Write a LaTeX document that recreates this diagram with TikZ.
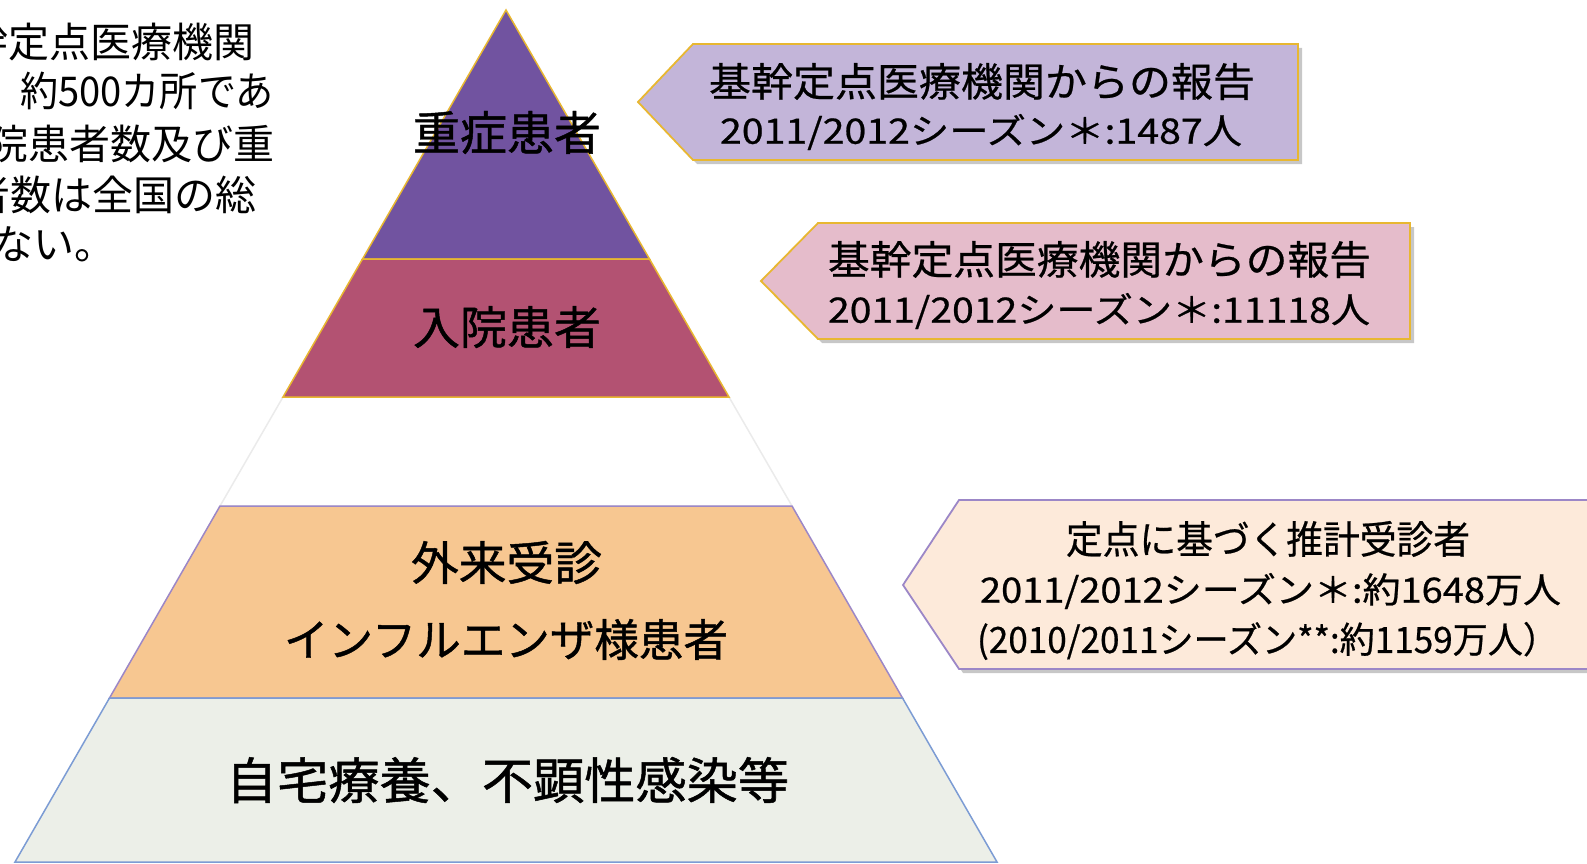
\documentclass[tikz,border=0pt]{standalone}
\usepackage{graphicx}
\usepackage{fontspec}
\setmainfont{Noto Sans CJK JP}
\newfontfamily\jpmed{Noto Sans CJK JP}[FakeBold=0.6]
\newfontfamily\jpbold{Noto Sans CJK JP}[FakeBold=1.0]
\definecolor{bandA}{RGB}{113,83,160}
\definecolor{bandB}{RGB}{179,82,114}
\definecolor{bandD}{RGB}{247,199,145}
\definecolor{bandE}{RGB}{236,239,232}
\definecolor{goldline}{RGB}{232,183,49}
\definecolor{purpleline}{RGB}{156,135,199}
\definecolor{blueline}{RGB}{124,156,212}
\definecolor{callA}{RGB}{195,181,217}
\definecolor{callB}{RGB}{229,188,203}
\definecolor{callC}{RGB}{253,234,218}
\newcommand{\fitbox}[3]{\resizebox*{#1pt}{#2pt}{\fontsize{40}{48}\selectfont #3}}
\begin{document}
\begin{tikzpicture}[x=1pt,y=-1pt,
  lbl/.style={inner sep=0pt, text=black},
  plbl/.style={lbl, font=\jpbold},
  clbl/.style={lbl, font=\jpmed},
  band/.style={line width=1.5pt, line join=miter},
  callbox/.style={line width=1.8pt, line join=miter},
  shadowfill/.style={fill=black, opacity=0.22}]
\useasboundingbox (0,0) rectangle (1587,864);
\begin{scope}
\clip (0,0) rectangle (1587,864);
% pyramid bands
\filldraw[band, fill=white, draw=black!8] (283,397) -- (729,397) -- (792,506) -- (220,506) -- cycle;
\filldraw[band, fill=bandA, draw=goldline] (506,10) -- (649.5,259) -- (362.5,259) -- cycle;
\filldraw[band, fill=bandB, draw=goldline] (362.5,259) -- (649.5,259) -- (729,397) -- (283,397) -- cycle;
\filldraw[band, fill=bandD, draw=purpleline] (220,506) -- (792,506) -- (902.5,698) -- (109.5,698) -- cycle;
\filldraw[band, fill=bandE, draw=blueline] (109.5,698) -- (902.5,698) -- (997,862) -- (15,862) -- cycle;
% callouts
\fill[shadowfill] (642,106) -- (697,48) -- (1302,48) -- (1302,164) -- (697,164) -- cycle;
\filldraw[callbox, fill=callA, draw=goldline] (638,102) -- (693,44) -- (1298,44) -- (1298,160) -- (693,160) -- cycle;
\fill[shadowfill] (765,285) -- (822,227) -- (1414,227) -- (1414,343) -- (822,343) -- cycle;
\filldraw[callbox, fill=callB, draw=goldline] (761,281) -- (818,223) -- (1410,223) -- (1410,339) -- (818,339) -- cycle;
\fill[shadowfill] (907,589) -- (963,504) -- (1610,504) -- (1610,673) -- (963,673) -- cycle;
\filldraw[callbox, fill=callC, draw=purpleline] (903,585) -- (959,500) -- (1600,500) -- (1600,669) -- (959,669) -- cycle;
% pyramid labels
\node[plbl] (top) at (507,132.5) {\fitbox{188}{43}{重症患者}};
\node[plbl] (hosp) at (507,327) {\fitbox{188}{42}{入院患者}};
\node[plbl] (out1) at (506.5,562.5) {\fitbox{191}{43}{外来受診}};
\node[plbl] (out2) at (506,639.5) {\fitbox{444}{41}{インフルエンザ様患者}};
\node[plbl] (home) at (507.5,780) {\fitbox{563}{46}{自宅療養、不顕性感染等}};
% callout texts
\node[clbl] (c1a) at (982,81.5) {\fitbox{546}{37}{基幹定点医療機関からの報告}};
\node[clbl] (c1b) at (981,132) {\fitbox{522}{36}{2011/2012シーズン＊:1487人}};
\node[clbl] (c2a) at (1099.5,259.5) {\fitbox{543}{37}{基幹定点医療機関からの報告}};
\node[clbl] (c2b) at (1099,311) {\fitbox{542}{36}{2011/2012シーズン＊:11118人}};
\node[clbl] (c3a) at (1268,539) {\fitbox{404}{36}{定点に基づく推計受診者}};
\node[clbl] (c3b) at (1270.5,591) {\fitbox{581}{36}{2011/2012シーズン＊:約1648万人}};
\node[clbl] (c3c) at (1267.5,641) {\fitbox{581}{38}{(2010/2011シーズン**:約1159万人）}};
% left note (clipped at the left edge)
\node[lbl, anchor=base west] (n1) at (-33,58) {\fontsize{41}{41}\selectfont 幹定点医療機関};
\node[lbl, anchor=base west] (n2) at (20,107) {\scalebox{0.93}[1]{\fontsize{41}{41}\selectfont 約500カ所であ}};
\node[lbl, anchor=base west] (n3) at (-13,159) {\fontsize{41}{41}\selectfont 院患者数及び重};
\node[lbl, anchor=base west] (n4) at (-31,210) {\fontsize{41}{41}\selectfont 者数は全国の総};
\node[lbl, anchor=base west] (n5) at (-8,259) {\fontsize{41}{41}\selectfont ない。};
\end{scope}
\end{tikzpicture}
\end{document}
